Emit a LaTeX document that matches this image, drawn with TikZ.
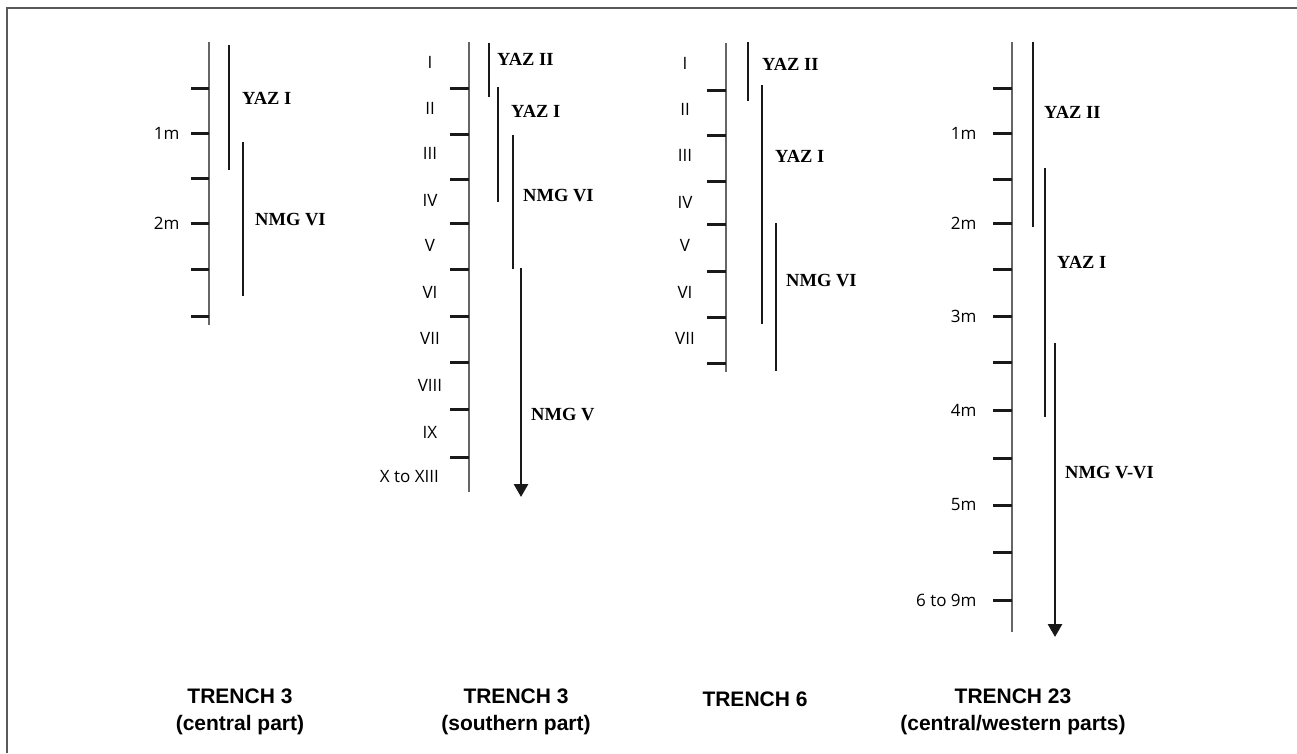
\documentclass[tikz,border=0pt]{standalone}
\usepackage{fontspec}
\setmainfont{Liberation Serif}
\setsansfont{Open Sans}
\newfontfamily\headfont{Liberation Sans}
\usetikzlibrary{arrows.meta,positioning}

\begin{document}
\begin{tikzpicture}
[x=1pt,y=-1pt,
 axis/.style={draw=black!60,line width=1.5pt},
 tick/.style={draw=black!90,line width=3pt},
 period/.style={draw=black!90,line width=2.7pt},
 lower/.style={period,-{Triangle[width=14pt,length=13pt]}},
 depth/.style={font=\sffamily\fontsize{17}{19}\selectfont,inner sep=0pt},
 phase/.style={font=\bfseries\fontsize{18.5}{21}\selectfont,anchor=west,inner sep=0pt},
 title/.style={font=\headfont\bfseries\fontsize{21}{27}\selectfont,align=center}]

\useasboundingbox (0,0) rectangle (1297,753);
\draw[black!65,line width=2pt] (1297,8) -- (7,8) -- (7,753);

% trench 3, central part
\coordinate (t1top) at (209,42);
\coordinate (t1bot) at (209,325);
\draw[axis] (t1top) -- (t1bot);
\foreach \y/\lab [count=\i] in {88/,133/1m,178/,223/2m,269/,316/}
 {\coordinate (t1tick\i) at (209,\y);
  \draw[tick] (t1tick\i) -- ++(-18,0) node[depth,anchor=east,xshift=-10pt] (t1lab\i) {\lab};}

\coordinate (t1a) at (229,45);
\coordinate (t1b) at (229,170);
\coordinate (t1c) at (243,142);
\coordinate (t1d) at (243,296);
\draw[period] (t1a) -- (t1b);
\draw[period] (t1c) -- (t1d);
\node[phase] (t1yaz) at (242,98) {YAZ I};
\node[phase] (t1nmg) at (255,220) {NMG VI};

% trench 3, southern part
\coordinate (t2top) at (469,42);
\coordinate (t2bot) at (469,492);
\draw[axis] (t2top) -- (t2bot);
\foreach \y [count=\i] in {88,134,179,223,269,316,362,409,457}
 {\coordinate (t2tick\i) at (469,\y);
  \draw[tick] (t2tick\i) -- ++(-19,0);}
\foreach \y/\lab [count=\i] in {62/I,108/II,153/III,200/IV,245/V,292/VI,338/VII,385/VIII,432/IX}
  \node[depth] (t2lab\i) at (430,\y) {\lab};
\node[depth,anchor=east] (t2lab10) at (439,477) {X to XIII};

\coordinate (t2a) at (489,43);
\coordinate (t2b) at (489,97);
\coordinate (t2c) at (498,87);
\coordinate (t2d) at (498,202);
\coordinate (t2e) at (513,135);
\coordinate (t2f) at (513,269);
\coordinate (t2g) at (521,268);
\coordinate (t2h) at (521,497);
\draw[period] (t2a) -- (t2b);
\draw[period] (t2c) -- (t2d);
\draw[period] (t2e) -- (t2f);
\draw[lower] (t2g) -- (t2h);
\node[phase] (t2yazii) at (497,59) {YAZ II};
\node[phase] (t2yazi) at (511,111) {YAZ I};
\node[phase] (t2nmgvi) at (523,196) {NMG VI};
\node[phase] (t2nmgv) at (531,415) {NMG V};

% trench 6
\coordinate (t3top) at (726,43);
\coordinate (t3bot) at (726,372);
\draw[axis] (t3top) -- (t3bot);
\foreach \y [count=\i] in {90,135,181,224,271,317,363}
 {\coordinate (t3tick\i) at (726,\y);
  \draw[tick] (t3tick\i) -- ++(-19,0);}
\foreach \y/\lab [count=\i] in {63/I,109/II,155/III,202/IV,245/V,292/VI,338/VII}
  \node[depth] (t3lab\i) at (685,\y) {\lab};

\coordinate (t3a) at (748,42);
\coordinate (t3b) at (748,101);
\coordinate (t3c) at (762,85);
\coordinate (t3d) at (762,324);
\coordinate (t3e) at (776,223);
\coordinate (t3f) at (776,371);
\draw[period] (t3a) -- (t3b);
\draw[period] (t3c) -- (t3d);
\draw[period] (t3e) -- (t3f);
\node[phase] (t3yazii) at (762,64) {YAZ II};
\node[phase] (t3yazi) at (775,156) {YAZ I};
\node[phase] (t3nmg) at (786,281) {NMG VI};

% trench 23
\coordinate (t4top) at (1012,42);
\coordinate (t4bot) at (1012,632);
\draw[axis] (t4top) -- (t4bot);
\foreach \y/\lab [count=\i] in {88/,133/1m,179/,223/2m,269/,316/3m,362/,410/4m,458/,505/5m,552/,600/6 to 9m}
 {\coordinate (t4tick\i) at (1012,\y);
  \draw[tick] (t4tick\i) -- ++(-19,0) node[depth,anchor=east,xshift=-15pt] (t4lab\i) {\lab};}

\coordinate (t4a) at (1033,42);
\coordinate (t4b) at (1033,227);
\coordinate (t4c) at (1045,168);
\coordinate (t4d) at (1045,417);
\coordinate (t4e) at (1055,343);
\coordinate (t4f) at (1055,637);
\draw[period] (t4a) -- (t4b);
\draw[period] (t4c) -- (t4d);
\draw[lower] (t4e) -- (t4f);
\node[phase] (t4yazii) at (1044,112) {YAZ II};
\node[phase] (t4yazi) at (1057,262) {YAZ I};
\node[phase] (t4nmg) at (1065,473) {NMG V-VI};

% titles
\node[title] (t1name) at (240,712) {TRENCH 3\\(central part)};
\node[title] (t2name) at (516,712) {TRENCH 3\\(southern part)};
\node[title] (t3name) at (755,699) {TRENCH 6};
\node[title] (t4name) at (1013,712) {TRENCH 23\\(central/western parts)};
\end{tikzpicture}
\end{document}
